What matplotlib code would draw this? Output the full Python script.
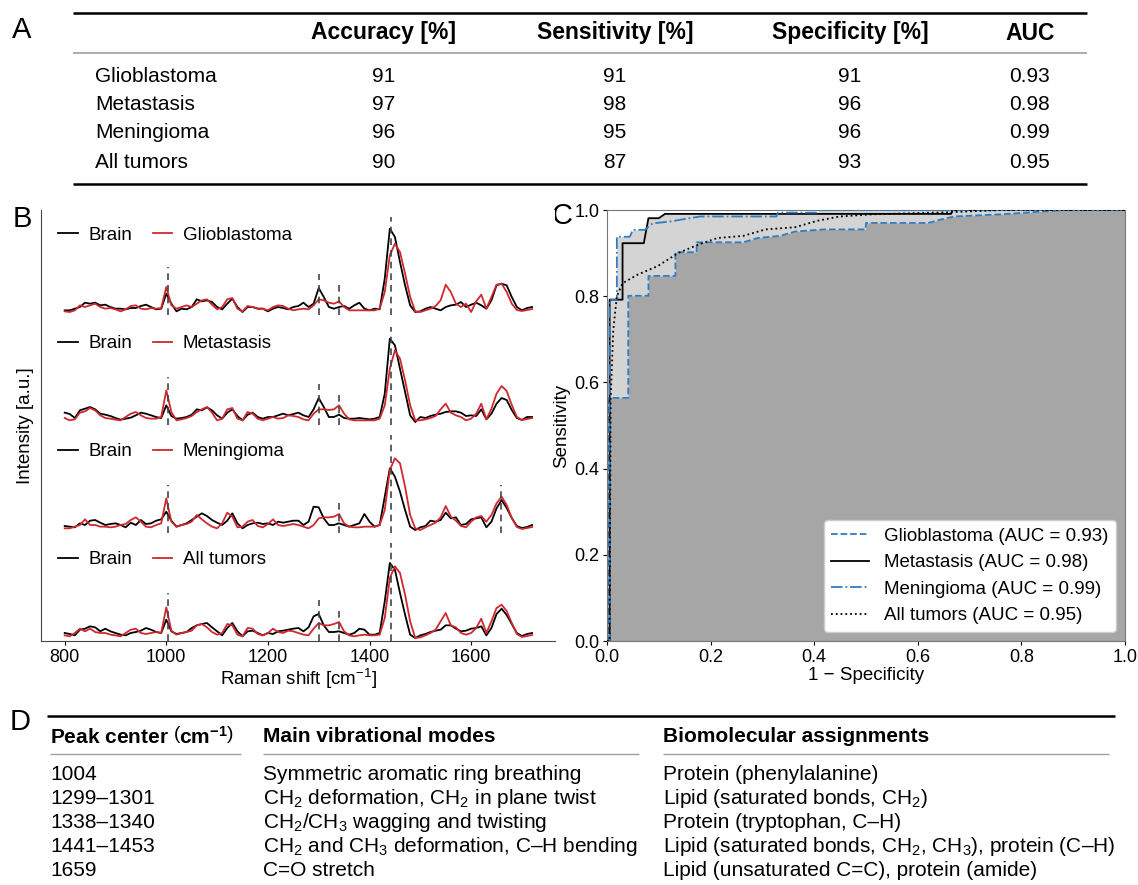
import numpy as np
import matplotlib
matplotlib.use("Agg")
import matplotlib.pyplot as plt
from matplotlib.legend import Legend

plt.rcParams["font.family"] = ["Liberation Sans", "DejaVu Sans"]
plt.rcParams["mathtext.fontset"] = "custom"
plt.rcParams["mathtext.rm"] = "Liberation Sans"
plt.rcParams["mathtext.it"] = "Liberation Sans:italic"
plt.rcParams["mathtext.bf"] = "Liberation Sans:bold"
plt.rcParams["mathtext.default"] = "regular"

# ---------------- TABLE A: classification metrics ----------------
tumor_types = ["Glioblastoma", "Metastasis", "Meningioma", "All tumors"]
metric_headers = ["Accuracy [%]", "Sensitivity [%]", "Specificity [%]", "AUC"]
accuracy = [91, 97, 96, 90]
sensitivity = [91, 98, 95, 87]
specificity = [91, 96, 96, 93]
auc = [0.93, 0.98, 0.99, 0.95]

# ---------------- PANEL B: mean spectra [a.u.] ----------------
raman_shift = np.arange(800, 1721, 10)

brain_gbm = [5, 5, 10, 15, 28, 25, 28, 20, 22, 15,
             10, 10, 8, 12, 12, 18, 22, 15, 8, 10,
             55, 25, 2, 10, 8, 15, 38, 32, 35, 30,
             15, 8, 25, 40, 15, 0, 15, 15, 10, 10,
             2, 10, 15, 12, 8, 15, 18, 28, 15, 25,
             72, 45, 15, 10, 15, 18, 10, 20, 28, 10,
             5, 10, 8, 100, 250, 225, 150, 80, 20, 0,
             2, 10, 15, 10, 5, 15, 20, 22, 30, 15,
             22, 28, 20, 10, 35, 80, 85, 80, 45, 15,
             5, 12, 15]
gbm = [2, 0, 5, 20, 15, 20, 25, 15, 10, 12,
       8, 2, 8, 18, 20, 10, 8, 12, 10, 12,
       75, 20, 10, 15, 20, 15, 25, 35, 38, 22,
       8, 15, 38, 42, 10, 2, 18, 15, 10, 10,
       5, 15, 20, 18, 10, 5, 8, 10, 8, 20,
       38, 35, 28, 25, 32, 15, 5, 5, 5, 5,
       5, 5, 10, 60, 170, 205, 180, 115, 45, 2,
       0, 5, 10, 18, 35, 82, 60, 25, 15, 25,
       0, 32, 52, 10, 45, 82, 85, 60, 25, 6,
       3, 6, 9]

brain_met = [28, 24, 12, 35, 40, 45, 38, 25, 22, 18,
             12, 7, 10, 13, 20, 28, 25, 20, 15, 12,
             50, 18, 10, 12, 15, 22, 38, 35, 44, 35,
             20, 10, 28, 38, 18, 5, 22, 28, 15, 10,
             15, 15, 20, 25, 20, 24, 28, 20, 15, 38,
             72, 45, 15, 15, 22, 12, 10, 10, 12, 10,
             8, 10, 15, 85, 250, 230, 160, 90, 20, 0,
             15, 12, 18, 22, 25, 30, 32, 32, 28, 18,
             20, 18, 38, 8, 25, 55, 72, 66, 36, 12,
             6, 15, 15]
met = [12, 5, 8, 28, 32, 42, 35, 20, 12, 10,
       7, 5, 15, 25, 30, 20, 12, 10, 10, 15,
       95, 30, 5, 8, 12, 18, 30, 38, 45, 28,
       5, 10, 38, 42, 10, 5, 30, 25, 10, 5,
       10, 15, 10, 12, 20, 18, 15, 8, 5, 25,
       38, 38, 36, 38, 50, 25, 8, 5, 5, 5,
       5, 5, 10, 50, 160, 215, 190, 125, 50, 5,
       5, 8, 12, 18, 38, 55, 28, 20, 15, 5,
       10, 25, 55, 8, 40, 85, 108, 93, 51, 15,
       6, 9, 12]

brain_men = [12, 10, 8, 20, 15, 28, 30, 22, 15, 18,
             20, 15, 8, 22, 15, 30, 18, 20, 28, 32,
             55, 28, 10, 15, 20, 30, 40, 50, 42, 30,
             22, 15, 28, 50, 20, 5, 15, 20, 22, 18,
             20, 15, 25, 22, 25, 28, 28, 15, 25, 70,
             68, 35, 15, 15, 20, 15, 10, 15, 20, 48,
             25, 10, 15, 100, 185, 160, 115, 60, 10, 0,
             8, 12, 28, 25, 30, 52, 35, 38, 15, 18,
             32, 35, 38, 8, 25, 65, 90, 66, 36, 12,
             6, 9, 15]
men = [5, 5, 10, 15, 32, 15, 15, 10, 10, 8,
       10, 15, 18, 30, 38, 25, 10, 8, 15, 20,
       95, 25, 10, 15, 18, 25, 45, 32, 20, 10,
       5, 20, 52, 40, 8, 10, 25, 30, 12, 8,
       18, 32, 15, 12, 15, 18, 15, 10, 5, 15,
       35, 38, 38, 40, 48, 20, 10, 8, 8, 10,
       10, 10, 15, 60, 180, 215, 200, 130, 45, 5,
       0, 8, 15, 22, 38, 72, 40, 28, 12, 8,
       25, 38, 42, 25, 45, 80, 100, 75, 36, 9,
       3, 6, 9]

brain_all = [15, 12, 8, 25, 28, 35, 32, 20, 28, 20,
             15, 10, 8, 15, 18, 22, 30, 25, 18, 15,
             55, 20, 12, 15, 18, 30, 38, 42, 45, 32,
             20, 8, 30, 45, 20, 5, 20, 22, 15, 8,
             15, 12, 20, 22, 25, 28, 30, 20, 32, 65,
             72, 38, 18, 18, 20, 15, 10, 15, 28, 25,
             10, 10, 15, 110, 225, 205, 135, 70, 10, 0,
             8, 12, 18, 22, 25, 38, 38, 28, 20, 22,
             28, 30, 35, 8, 30, 72, 88, 69, 42, 15,
             6, 12, 15]
all_tumors = [8, 5, 15, 28, 20, 28, 18, 15, 15, 10,
              8, 5, 15, 25, 28, 15, 12, 15, 18, 15,
              92, 22, 10, 15, 18, 22, 38, 42, 32, 18,
              10, 15, 42, 38, 10, 5, 30, 28, 12, 8,
              15, 28, 18, 15, 22, 20, 15, 10, 8, 28,
              45, 38, 38, 42, 48, 20, 8, 5, 8, 10,
              8, 8, 10, 60, 180, 215, 195, 130, 50, 0,
              2, 8, 15, 25, 50, 75, 38, 32, 15, 10,
              15, 30, 58, 15, 50, 90, 100, 81, 45, 12,
              3, 6, 9]

marked_peaks = [[1004, 1300, 1339, 1442],
                [1004, 1300, 1339, 1442],
                [1004, 1339, 1442, 1659],
                [1004, 1300, 1339, 1442]]

# ---------------- PANEL C: ROC curves ----------------
fpr_gbm = [0, 0.004, 0.004, 0.041, 0.041, 0.080, 0.080, 0.132, 0.132, 0.173, 0.173,
           0.263, 0.291, 0.334, 0.363, 0.42, 0.499, 0.50, 0.62, 0.645, 0.67, 0.76, 0.886, 1.0]
tpr_gbm = [0, 0, 0.564, 0.564, 0.801, 0.801, 0.847, 0.847, 0.902, 0.902, 0.925,
           0.925, 0.935, 0.940, 0.950, 0.955, 0.955, 0.97, 0.97, 0.978, 0.985, 0.99, 1.0, 1.0]
fpr_met = [0, 0.005, 0.005, 0.030, 0.030, 0.071, 0.080, 0.100, 0.112, 0.664, 0.667, 1.0]
tpr_met = [0, 0, 0.792, 0.792, 0.923, 0.923, 0.981, 0.981, 0.991, 0.991, 1.0, 1.0]
fpr_men = [0, 0.005, 0.005, 0.019, 0.019, 0.044, 0.05, 0.073, 0.088, 0.12, 0.18,
           0.327, 0.33, 0.406, 0.41, 1.0]
tpr_men = [0, 0, 0.792, 0.792, 0.938, 0.938, 0.954, 0.954, 0.969, 0.973, 0.985,
           0.985, 0.994, 0.994, 1.0, 1.0]
fpr_all = [0, 0.005, 0.007, 0.012, 0.019, 0.03, 0.059, 0.098, 0.137, 0.177, 0.213,
           0.263, 0.306, 0.363, 0.406, 0.449, 0.513, 0.664, 0.764, 1.0]
tpr_all = [0, 0, 0.56, 0.72, 0.80, 0.83, 0.85, 0.87, 0.90, 0.92, 0.935,
           0.94, 0.955, 0.96, 0.975, 0.985, 0.99, 0.995, 1.0, 1.0]

# ---------------- TABLE D: peak assignments ----------------
peak_headers = [r"Peak center $\left(\mathbf{cm^{-1}}\right)$",
                "Main vibrational modes", "Biomolecular assignments"]
peak_centers = ["1004", "1299–1301", "1338–1340", "1441–1453", "1659"]
vib_modes = ["Symmetric aromatic ring breathing",
             "CH$_2$ deformation, CH$_2$ in plane twist",
             "CH$_2$/CH$_3$ wagging and twisting",
             "CH$_2$ and CH$_3$ deformation, C–H bending",
             "C=O stretch"]
assignments = ["Protein (phenylalanine)",
               "Lipid (saturated bonds, CH$_2$)",
               "Protein (tryptophan, C–H)",
               "Lipid (saturated bonds, CH$_2$, CH$_3$), protein (C–H)",
               "Lipid (unsaturated C=C), protein (amide)"]

RED = "#d0282e"
BLUE = "#2f7dc0"


def main():
    fig = plt.figure(figsize=(11.38, 8.85), dpi=100)

    # canvas in pixel coordinates for tables and panel letters
    canvas = fig.add_axes([0, 0, 1, 1], zorder=-1)
    canvas.set_xlim(0, 1138)
    canvas.set_ylim(885, 0)
    canvas.axis("off")

    # ---------------- TABLE A ----------------
    col_x = [384, 615, 850, 1030]
    row_y = [76, 105, 133, 162]
    canvas.hlines(12.7, 73, 1087, color="black", lw=1.8)
    canvas.hlines(53, 73, 1087, color="#a0a0a0", lw=1.2)
    canvas.hlines(183.5, 73, 1087, color="black", lw=1.8)
    for x, h in zip(col_x, metric_headers):
        canvas.text(x, 33, h, ha="center", va="center", fontsize=16.5, fontweight="bold")
    for i, name in enumerate(tumor_types):
        canvas.text(95, row_y[i], name, ha="left", va="center", fontsize=15)
        vals = [str(accuracy[i]), str(sensitivity[i]), str(specificity[i]), f"{auc[i]:.2f}"]
        for x, v in zip(col_x, vals):
            canvas.text(x, row_y[i], v, ha="center", va="center", fontsize=15)

    # ---------------- TABLE D ----------------
    d_x = [50, 263, 663]
    d_line_ends = [241, 639, 1109]
    d_rows = [774, 798, 822, 846, 871]
    canvas.hlines(716, 47, 1115, color="black", lw=1.8)
    for x, h, x2 in zip(d_x, peak_headers, d_line_ends):
        canvas.text(x, 737, h, ha="left", va="center", fontsize=15, fontweight="bold")
        canvas.hlines(754, x, x2, color="#a0a0a0", lw=1.0)
    for i in range(len(peak_centers)):
        for x, col in zip(d_x, [peak_centers, vib_modes, assignments]):
            canvas.text(x, d_rows[i], col[i], ha="left", va="center", fontsize=15)

    # panel letters
    for (x, y), letter in zip([(22, 30), (22, 219), (562, 216), (20, 722)], "ABCD"):
        canvas.text(x, y, letter, ha="center", va="center", fontsize=21)

    # ---------------- PANEL B ----------------
    axB = fig.add_axes([0.0363, 0.2757, 0.4518, 0.487])
    pairs = [(brain_gbm, gbm, "Glioblastoma"),
             (brain_met, met, "Metastasis"),
             (brain_men, men, "Meningioma"),
             (brain_all, all_tumors, "All tumors")]
    offsets = [978, 648, 324, 0]
    line_top = {1004: 135, 1300: 115, 1339: 95, 1442: 285, 1659: 135}
    legend_y = [0.942, 0.690, 0.439, 0.189]

    for (brain, tumor, name), off, peaks, ly in zip(pairs, offsets, marked_peaks, legend_y):
        lb, = axB.plot(raman_shift, np.array(brain) + off, color="black", lw=1.3, zorder=2)
        lt, = axB.plot(raman_shift, np.array(tumor) + off, color=RED, lw=1.3, zorder=2)
        axB.vlines(peaks, off - 10, [off + line_top[p] for p in peaks],
                   colors="#444444", linestyles=(0, (4, 3)), lw=1.2, zorder=3)
        leg = Legend(axB, [lb, lt], ["Brain", name], loc="center left",
                     bbox_to_anchor=(0.0325, ly), ncol=2, frameon=False,
                     fontsize=13.5, handlelength=1.05, handletextpad=0.55,
                     columnspacing=1.1, borderpad=0, borderaxespad=0)
        axB.add_artist(leg)

    axB.set_xlim(754, 1766)
    axB.set_ylim(-9, 1284)
    axB.set_xticks([800, 1000, 1200, 1400, 1600])
    axB.set_yticks([])
    axB.tick_params(labelsize=13, length=3, pad=2.5)
    for s in ["top", "right"]:
        axB.spines[s].set_visible(False)
    for s in ["left", "bottom"]:
        axB.spines[s].set_color("#444444")
    axB.set_xlabel("Raman shift [cm$^{-1}$]", fontsize=13.5, labelpad=1)
    axB.set_ylabel("Intensity [a.u.]", fontsize=13.5, labelpad=5)

    # ---------------- PANEL C ----------------
    axC = fig.add_axes([0.5334, 0.2757, 0.4552, 0.487])
    axC.fill_between(fpr_met, tpr_met, color="#d4d4d4", lw=0, zorder=1)
    axC.fill_between(fpr_men, tpr_men, color="#d4d4d4", lw=0, zorder=1)
    axC.fill_between(fpr_gbm, tpr_gbm, color="#a6a6a6", lw=0, zorder=1.5)

    axC.plot(fpr_gbm, tpr_gbm, color=BLUE, ls="--", lw=1.3, zorder=3,
             label=f"Glioblastoma (AUC = {auc[0]:.2f})")
    axC.plot(fpr_met, tpr_met, color="black", ls="-", lw=1.3, zorder=3,
             label=f"Metastasis (AUC = {auc[1]:.2f})")
    axC.plot(fpr_men, tpr_men, color=BLUE, ls="-.", lw=1.3, zorder=3,
             label=f"Meningioma (AUC = {auc[2]:.2f})")
    axC.plot(fpr_all, tpr_all, color="black", ls=":", lw=1.3, zorder=3,
             label=f"All tumors (AUC = {auc[3]:.2f})")

    axC.set_xlim(0, 1)
    axC.set_ylim(0, 1)
    ticks = [0, 0.2, 0.4, 0.6, 0.8, 1.0]
    axC.set_xticks(ticks)
    axC.set_yticks(ticks)
    axC.tick_params(labelsize=13, length=3, pad=2.5)
    for s in axC.spines.values():
        s.set_color("#777777")
    axC.set_xlabel("1 − Specificity", fontsize=13.5, labelpad=1)
    axC.set_ylabel("Sensitivity", fontsize=13.5, labelpad=3)
    axC.legend(loc="lower right", fontsize=13.5, framealpha=1)

    fig.savefig("out.png", dpi=100)
    plt.close(fig)


if __name__ == "__main__":
    main()
